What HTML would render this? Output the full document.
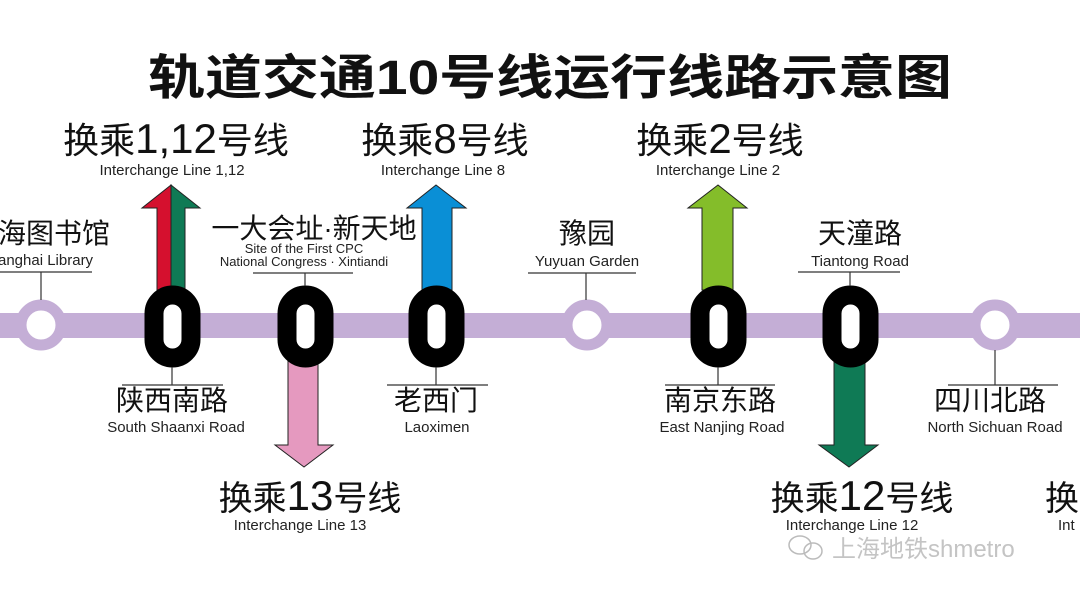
<!DOCTYPE html>
<html><head><meta charset="utf-8"><style>
html,body{margin:0;padding:0;background:#fff;width:1080px;height:596px;overflow:hidden}
svg{display:block}
.cn{font-family:"Liberation Sans","Noto Sans CJK SC",sans-serif;fill:#111}
.en{font-family:"Liberation Sans",sans-serif;fill:#222}
</style></head><body>
<svg width="1080" height="596" viewBox="0 0 1080 596" xmlns="http://www.w3.org/2000/svg">
<text class="cn" x="550" y="94" font-size="48" font-weight="bold" text-anchor="middle" textLength="804" lengthAdjust="spacingAndGlyphs">轨道交通10号线运行线路示意图</text>

<rect x="0" y="313" width="1080" height="25" fill="#c4aed6"/>
<g fill="#fff" stroke="#c4aed6" stroke-width="11">
<circle cx="41" cy="325" r="20"/>
<circle cx="587" cy="325" r="20"/>
<circle cx="995" cy="325" r="20"/>
</g>

<polygon points="157,290 157,208 142,208 171,185 171,290" fill="#d5102e" stroke="#222" stroke-width="1"/>
<polygon points="171,290 171,185 200,208 185,208 185,290" fill="#0f7a55" stroke="#222" stroke-width="1"/>
<polygon points="422,290 422,208 407,208 436,185 466,208 452,208 452,290" fill="#0a8fd6" stroke="#222" stroke-width="1"/>
<polygon points="702,290 702,208 688,208 718,185 747,208 733,208 733,290" fill="#84bd2a" stroke="#222" stroke-width="1"/>
<polygon points="288,360 288,445 275,445 304,467 333,445 318,445 318,360" fill="#e599bf" stroke="#222" stroke-width="1"/>
<polygon points="834,360 834,445 819,445 849,467 878,445 865,445 865,360" fill="#0f7a55" stroke="#222" stroke-width="1"/>

<g fill="#fff" stroke="#000" stroke-width="19">
<rect x="154" y="295" width="37" height="63" rx="18.5"/>
<rect x="287" y="295" width="37" height="63" rx="18.5"/>
<rect x="418" y="295" width="37" height="63" rx="18.5"/>
<rect x="700" y="295" width="37" height="63" rx="18.5"/>
<rect x="832" y="295" width="37" height="63" rx="18.5"/>
</g>

<g stroke="#333" stroke-width="1.2" fill="none">
<path d="M0 272H92M41 272V300"/>
<path d="M253 273H353M305 273V286"/>
<path d="M528 273H636M586 273V300"/>
<path d="M798 272H900M850 272V286"/>
<path d="M122 385H223M172 367V385"/>
<path d="M387 385H488M436 367V385"/>
<path d="M665 385H775M718 367V385"/>
<path d="M948 385H1058M995 350V385"/>
</g>

<text class="cn" x="176" y="153" font-size="36" text-anchor="middle">换乘<tspan font-size="42">1,12</tspan>号线</text>
<text class="en" x="172" y="175" font-size="15" text-anchor="middle">Interchange Line 1,12</text>
<text class="cn" x="445" y="153" font-size="36" text-anchor="middle">换乘<tspan font-size="42">8</tspan>号线</text>
<text class="en" x="443" y="175" font-size="15" text-anchor="middle">Interchange Line 8</text>
<text class="cn" x="720" y="153" font-size="36" text-anchor="middle">换乘<tspan font-size="42">2</tspan>号线</text>
<text class="en" x="718" y="175" font-size="15" text-anchor="middle">Interchange Line 2</text>

<text class="cn" x="-2" y="243" font-size="28">海图书馆</text>
<text class="en" x="-2" y="265" font-size="15">anghai Library</text>
<text class="cn" x="314" y="238" font-size="28" text-anchor="middle">一大会址·新天地</text>
<text class="en" x="304" y="253" font-size="13" text-anchor="middle">Site of the First CPC</text>
<text class="en" x="304" y="266" font-size="13" text-anchor="middle">National Congress · Xintiandi</text>
<text class="cn" x="587" y="243" font-size="28" text-anchor="middle">豫园</text>
<text class="en" x="587" y="266" font-size="15" text-anchor="middle">Yuyuan Garden</text>
<text class="cn" x="860" y="243" font-size="28" text-anchor="middle">天潼路</text>
<text class="en" x="860" y="266" font-size="15" text-anchor="middle">Tiantong Road</text>

<text class="cn" x="172" y="410" font-size="28" text-anchor="middle">陕西南路</text>
<text class="en" x="176" y="432" font-size="15" text-anchor="middle">South Shaanxi Road</text>
<text class="cn" x="436" y="410" font-size="28" text-anchor="middle">老西门</text>
<text class="en" x="437" y="432" font-size="15" text-anchor="middle">Laoximen</text>
<text class="cn" x="720" y="410" font-size="28" text-anchor="middle">南京东路</text>
<text class="en" x="722" y="432" font-size="15" text-anchor="middle">East Nanjing Road</text>
<text class="cn" x="990" y="410" font-size="28" text-anchor="middle">四川北路</text>
<text class="en" x="995" y="432" font-size="15" text-anchor="middle">North Sichuan Road</text>

<text class="cn" x="310" y="510" font-size="34" text-anchor="middle">换乘<tspan font-size="42">13</tspan>号线</text>
<text class="en" x="300" y="530" font-size="15" text-anchor="middle">Interchange Line 13</text>
<text class="cn" x="862" y="510" font-size="34" text-anchor="middle">换乘<tspan font-size="42">12</tspan>号线</text>
<text class="en" x="852" y="530" font-size="15" text-anchor="middle">Interchange Line 12</text>
<text class="cn" x="1045" y="510" font-size="34">换</text>
<text class="en" x="1058" y="530" font-size="15">Int</text>

<g fill="none" stroke="#bbb" stroke-width="1.5">
<ellipse cx="800" cy="545" rx="11" ry="9"/>
<ellipse cx="813" cy="551" rx="9" ry="8"/>
</g>
<text x="832" y="557" font-size="24" fill="#c4c4c4" font-family="Liberation Sans,Noto Sans CJK SC,sans-serif">上海地铁shmetro</text>
</svg>
</body></html>
